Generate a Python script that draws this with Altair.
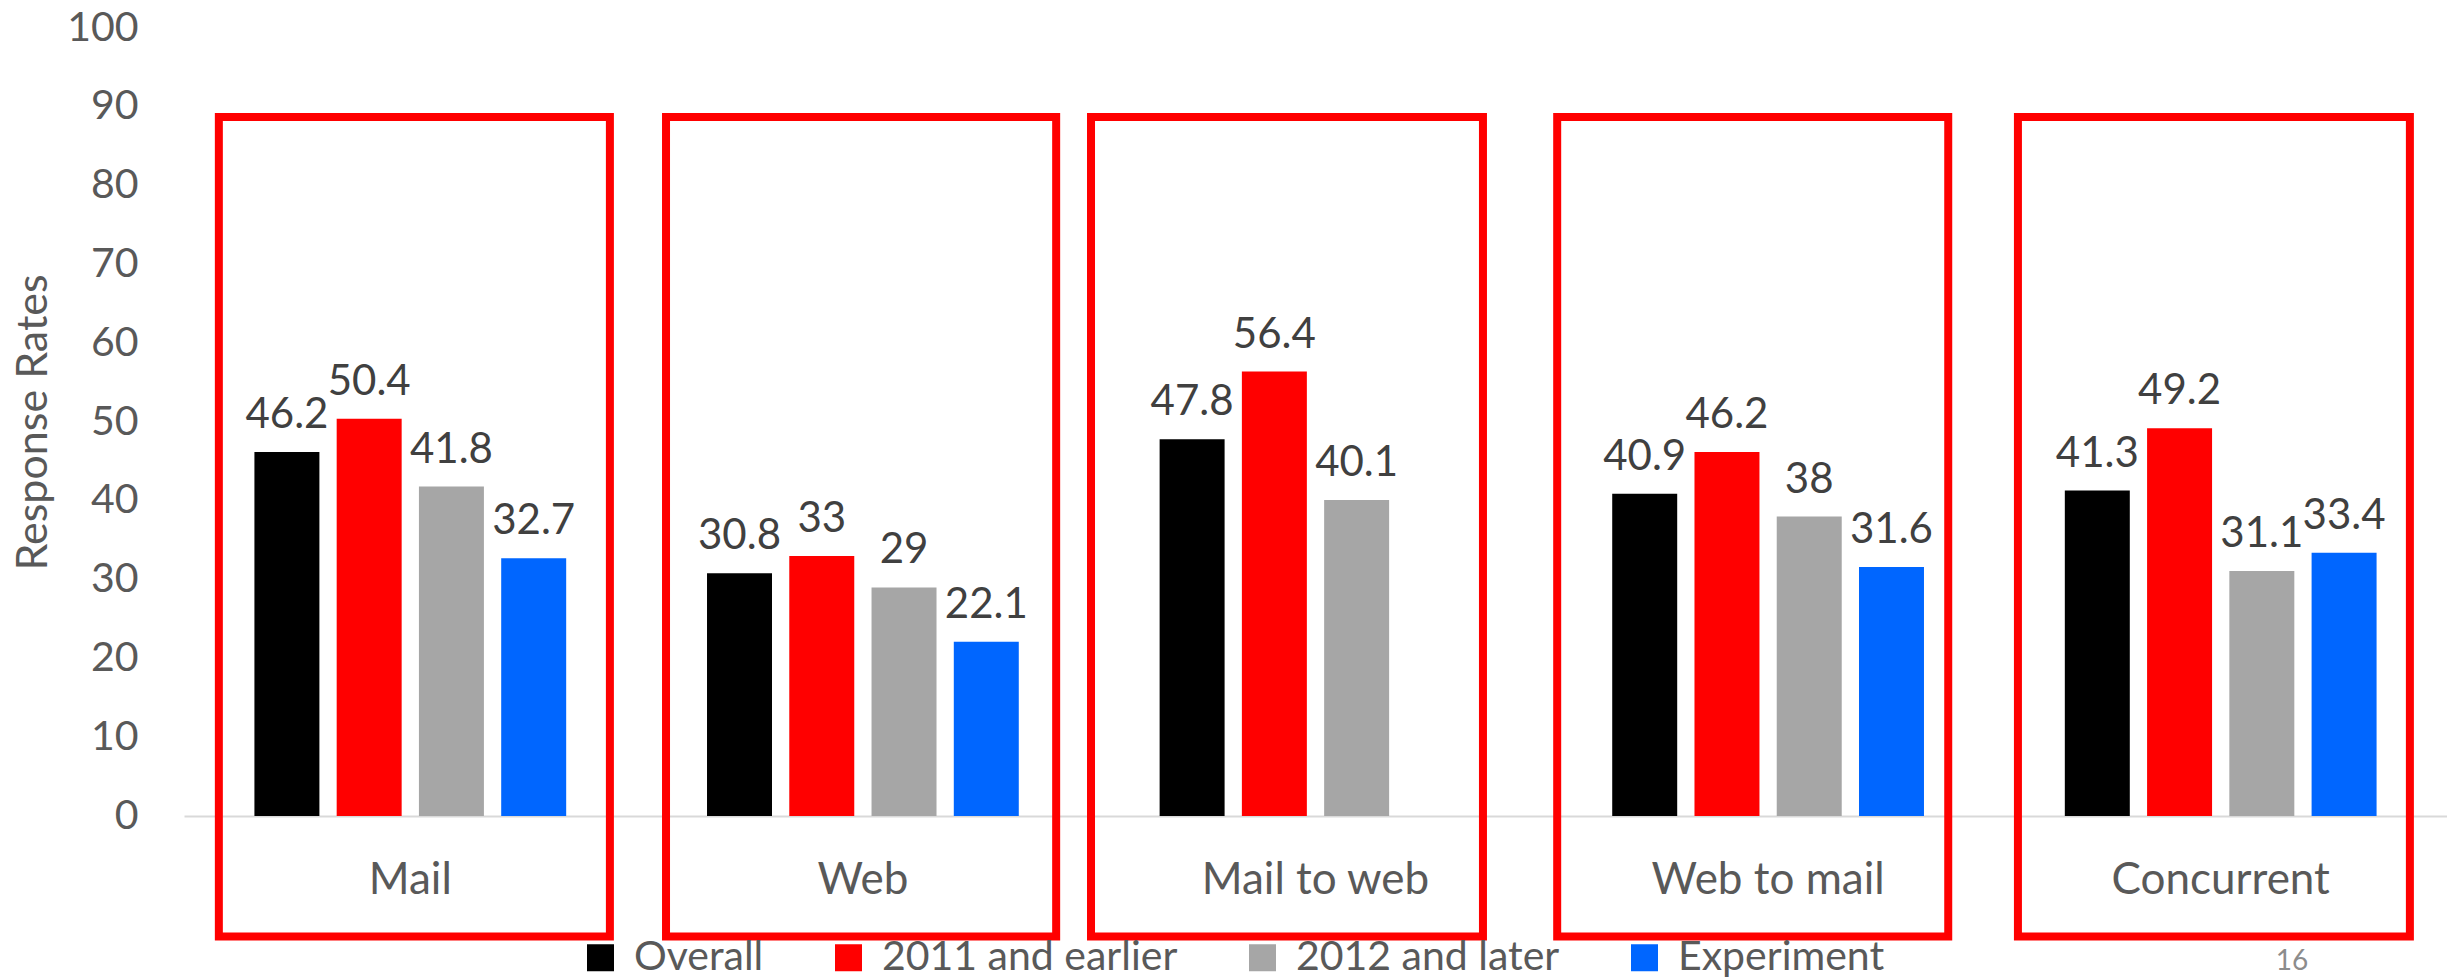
import altair as alt
import pandas as pd

categories = ["Mail", "Web", "Mail to web", "Web to mail", "Concurrent"]
series = ["Overall", "2011 and earlier", "2012 and later", "Experiment"]
overall = [46.2, 30.8, 47.8, 40.9, 41.3]
earlier = [50.4, 33, 56.4, 46.2, 49.2]
later = [41.8, 29, 40.1, 38, 31.1]
experiment = [32.7, 22.1, None, 31.6, 33.4]
colors = ["#000000", "#ff0000", "#a6a6a6", "#0066ff"]

# highlight boxes, in category units along the x axis and data units on y
box_left = [0.077, 1.065, 2.004, 3.034, 4.052]
box_right = [0.941, 1.927, 2.870, 3.898, 4.918]
box_bottom = -15.3
box_top = 88.7

rows = []
for i, c in enumerate(categories):
    for s, vals in zip(series, [overall, earlier, later, experiment]):
        v = vals[i]
        if v is not None:
            rows.append({"category": c, "series": s, "value": v,
                         "label": f"{v:g}"})
df = pd.DataFrame(rows)

boxes = pd.DataFrame({"category": categories, "x1": box_left, "x2": box_right,
                      "y1": [box_bottom] * 5, "y2": [box_top] * 5})

FONT = "Lato"
GRAY = "#595959"

xscale = alt.Scale(domain=categories, paddingInner=0.273, paddingOuter=0.1365)
xoff = alt.XOffset("series:N", sort=series,
                   scale=alt.Scale(domain=series, paddingInner=0.21, paddingOuter=0.105))
yscale = alt.Scale(domain=[0, 100], nice=False)

xaxis = alt.Axis(title=None, labelAngle=0, ticks=False, domainColor="#d9d9d9",
                 domainWidth=2, labelFontSize=44, labelColor=GRAY, labelFont=FONT,
                 labelPadding=42, labelLimit=0)
yaxis = alt.Axis(title="Response Rates", values=list(range(0, 101, 10)),
                 domain=False, ticks=False, grid=False, labelFontSize=41,
                 labelColor=GRAY, labelFont=FONT, labelPadding=46,
                 titleFontSize=43, titleColor=GRAY, titleFont=FONT,
                 titleFontWeight="normal", titlePadding=11)

base = alt.Chart(df)

bars = base.mark_bar().encode(
    x=alt.X("category:N", sort=categories, scale=xscale, axis=xaxis),
    xOffset=xoff,
    y=alt.Y("value:Q", scale=yscale, axis=yaxis),
    color=alt.Color("series:N", sort=series, scale=alt.Scale(domain=series, range=colors),
                    legend=alt.Legend(orient="none", legendX=396, legendY=909,
                                      direction="horizontal", title=None,
                                      symbolType="square", symbolSize=729,
                                      symbolStrokeWidth=0, labelFontSize=41,
                                      labelFont=FONT, labelColor=GRAY, labelOffset=13,
                                      columnPadding=64, labelLimit=0)),
)

labels = base.mark_text(baseline="alphabetic", dy=-24, fontSize=42, font=FONT,
                        color="#404040").encode(
    x=alt.X("category:N", sort=categories, scale=xscale, axis=xaxis),
    xOffset=xoff,
    y=alt.Y("value:Q", scale=yscale, axis=yaxis),
    text="label:N",
)

rects = alt.Chart(boxes).mark_rect(fillOpacity=0, stroke="#ff0000",
                                   strokeWidth=8).encode(
    x=alt.X("x1:Q", scale=alt.Scale(domain=[0, 5], nice=False, zero=False), axis=None),
    x2="x2:Q",
    y=alt.Y("y1:Q", scale=yscale, axis=yaxis),
    y2="y2:Q",
)

page = alt.Chart(pd.DataFrame({"t": ["16"]})).mark_text(
    fontSize=28, font=FONT, color="#8c8c8c", baseline="alphabetic").encode(
    x=alt.value(2108), y=alt.value(942), text="t:N")

chart = alt.layer(
    alt.layer(bars, labels),
    rects,
    page,
).resolve_scale(x="independent").properties(
    width=2263, height=788,
    background="white",
    autosize=alt.AutoSizeParams(type="none"),
    padding={"left": 184, "top": 28, "right": 0, "bottom": 164},
).configure_view(stroke=None)

chart.save("out.html", embed_options={"renderer": "svg", "actions": False})
